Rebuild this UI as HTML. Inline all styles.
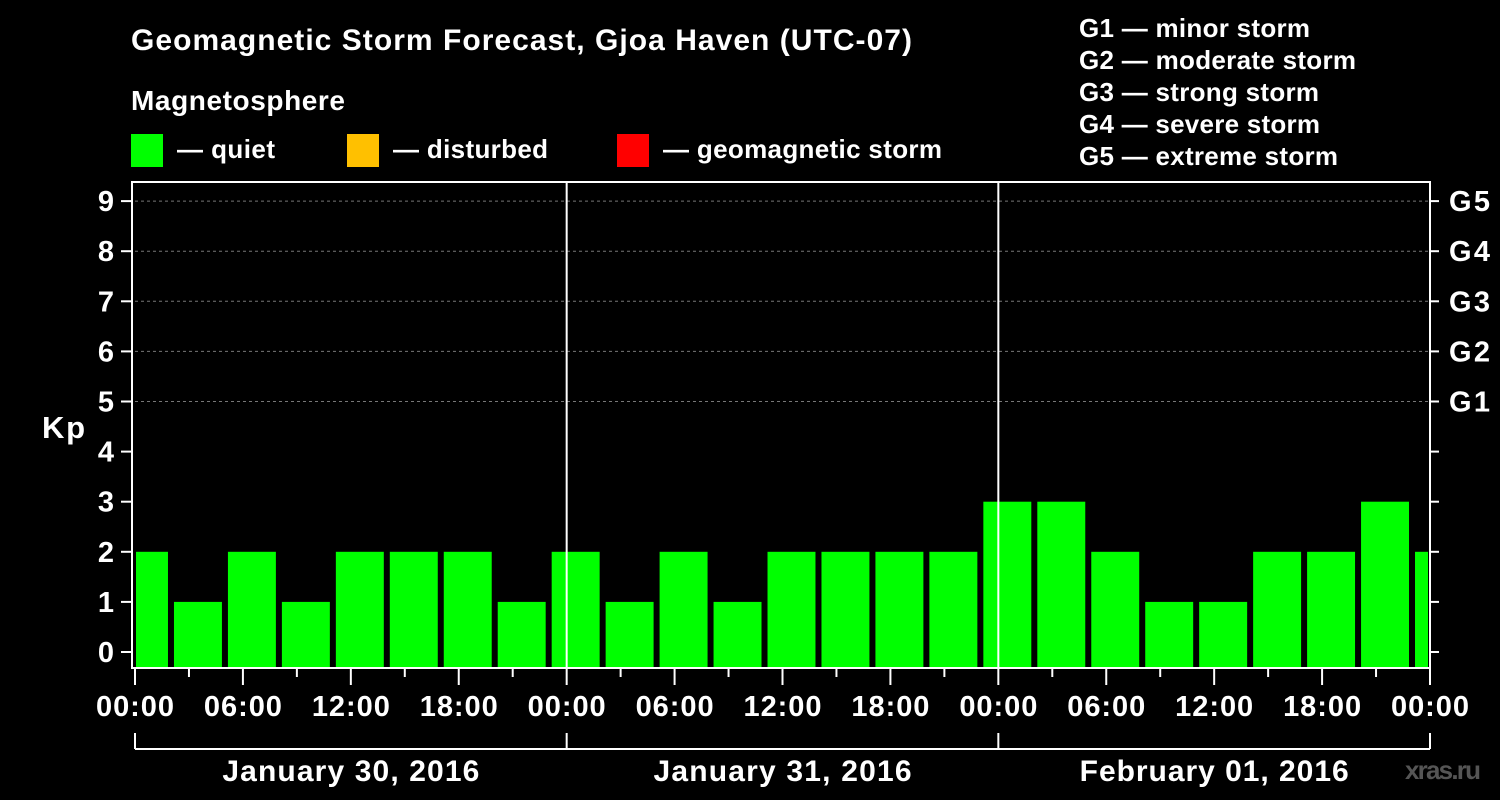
<!DOCTYPE html>
<html><head><meta charset="utf-8"><style>
html,body{margin:0;padding:0;background:#000;}
svg{display:block;font-family:"Liberation Sans",Arial,sans-serif;font-weight:bold;}
</style></head><body>
<svg id="c" width="1500" height="800" viewBox="0 0 1500 800">
<text x="131" y="50" fill="#fff" font-size="30" textLength="781" lengthAdjust="spacing">Geomagnetic Storm Forecast, Gjoa Haven (UTC-07)</text>
<text x="131" y="110" fill="#fff" font-size="28" textLength="214" lengthAdjust="spacing">Magnetosphere</text>
<g><rect x="131" y="134" width="32" height="33" fill="#00ff00"/><text x="177" y="158" fill="#fff" font-size="26" textLength="98" lengthAdjust="spacing">— quiet</text></g>
<g><rect x="347" y="134" width="32" height="33" fill="#ffc000"/><text x="393" y="158" fill="#fff" font-size="26" textLength="155" lengthAdjust="spacing">— disturbed</text></g>
<g><rect x="617" y="134" width="32" height="33" fill="#ff0000"/><text x="663" y="158" fill="#fff" font-size="26" textLength="279" lengthAdjust="spacing">— geomagnetic storm</text></g>
<g fill="#fff" font-size="26">
<text x="1079" y="37" textLength="231" lengthAdjust="spacing">G1 — minor storm</text>
<text x="1079" y="69" textLength="277" lengthAdjust="spacing">G2 — moderate storm</text>
<text x="1079" y="101" textLength="240" lengthAdjust="spacing">G3 — strong storm</text>
<text x="1079" y="133" textLength="241" lengthAdjust="spacing">G4 — severe storm</text>
<text x="1079" y="165" textLength="259" lengthAdjust="spacing">G5 — extreme storm</text>
</g>
<text x="42" y="438" fill="#fff" font-size="31" textLength="43" lengthAdjust="spacing">Kp</text>
<text x="1405" y="779" fill="#555" font-size="26" textLength="76" lengthAdjust="spacing">xras.ru</text>
<g id="plot"></g>
</svg>
<script>
const kpValues=[2,1,2,1,2,2,2,1,2,1,2,1,2,2,2,2,3,3,2,1,1,2,2,3,2];
const yTicks=[0,1,2,3,4,5,6,7,8,9];
const gLabels=["G1","G2","G3","G4","G5"];
const hourLabels=["00:00","06:00","12:00","18:00","00:00","06:00","12:00","18:00","00:00","06:00","12:00","18:00","00:00"];
const dayLabels=["January 30, 2016","January 31, 2016","February 01, 2016"];
const dayLabelWidths=[257,258,269];
const firstBarHour=-1, barHours=3, totalHours=72;
const L=135,R=1430,T=182,B=668;
const x=h=>L+(R-L)*h/totalHours;
const y=v=>652-v*50.1;
const ns="http://www.w3.org/2000/svg";
const g=document.getElementById('plot');
function mk(t,a){const e=document.createElementNS(ns,t);for(const k in a)e.setAttribute(k,a[k]);g.appendChild(e);return e;}
[5,6,7,8,9].forEach(v=>{const e=mk('line',{x1:L,x2:R,y1:y(v),y2:y(v),stroke:'#777','stroke-dasharray':'3,3'});

});
kpValues.forEach((v,i)=>{const h0=firstBarHour+i*barHours;let x0=Math.max(x(h0)+3,L+1),x1=Math.min(x(h0+barHours)-3,R-2);
const c=v>=5?'#ff0000':(v>=4?'#ffc000':'#00ff00');
const e=mk('rect',{x:x0,y:y(v),width:x1-x0,height:B-y(v),fill:c});

});
[24,48].forEach(h=>{const e=mk('line',{x1:x(h),x2:x(h),y1:T,y2:B,stroke:'#fff','stroke-width':2});

});
const fr=mk('rect',{x:132,y:T,width:R-132,height:B-T,fill:'none',stroke:'#fff','stroke-width':2});


yTicks.forEach(v=>{mk('line',{x1:121,x2:132,y1:y(v),y2:y(v),stroke:'#fff','stroke-width':2});
mk('line',{x1:R,x2:R+9,y1:y(v),y2:y(v),stroke:'#fff','stroke-width':2});
const t=mk('text',{x:114,y:y(v)+10,fill:'#fff','font-size':29,'text-anchor':'end'});t.textContent=v;

});
gLabels.forEach((s,i)=>{const t=mk('text',{x:1449,y:y(5+i)+10,fill:'#fff','font-size':29,textLength:41,lengthAdjust:'spacing'});t.textContent=s;

});
for(let h=0;h<=totalHours;h+=3){const maj=h%6===0;mk('line',{x1:x(h),x2:x(h),y1:B,y2:maj?685:677,stroke:'#fff','stroke-width':2});}
hourLabels.forEach((s,i)=>{const t=mk('text',{x:x(i*6)-39,y:716,fill:'#fff','font-size':29,textLength:78,lengthAdjust:'spacing'});t.textContent=s;

});
mk('line',{x1:L,x2:R,y1:749,y2:749,stroke:'#fff','stroke-width':2});
[0,24,48,72].forEach(h=>mk('line',{x1:x(h),x2:x(h),y1:733,y2:749,stroke:'#fff','stroke-width':2}));
dayLabels.forEach((s,i)=>{const w=dayLabelWidths[i];const t=mk('text',{x:x(i*24+12)-w/2,y:781,fill:'#fff','font-size':30,textLength:w,lengthAdjust:'spacing'});t.textContent=s;

});
</script>
</body></html>
